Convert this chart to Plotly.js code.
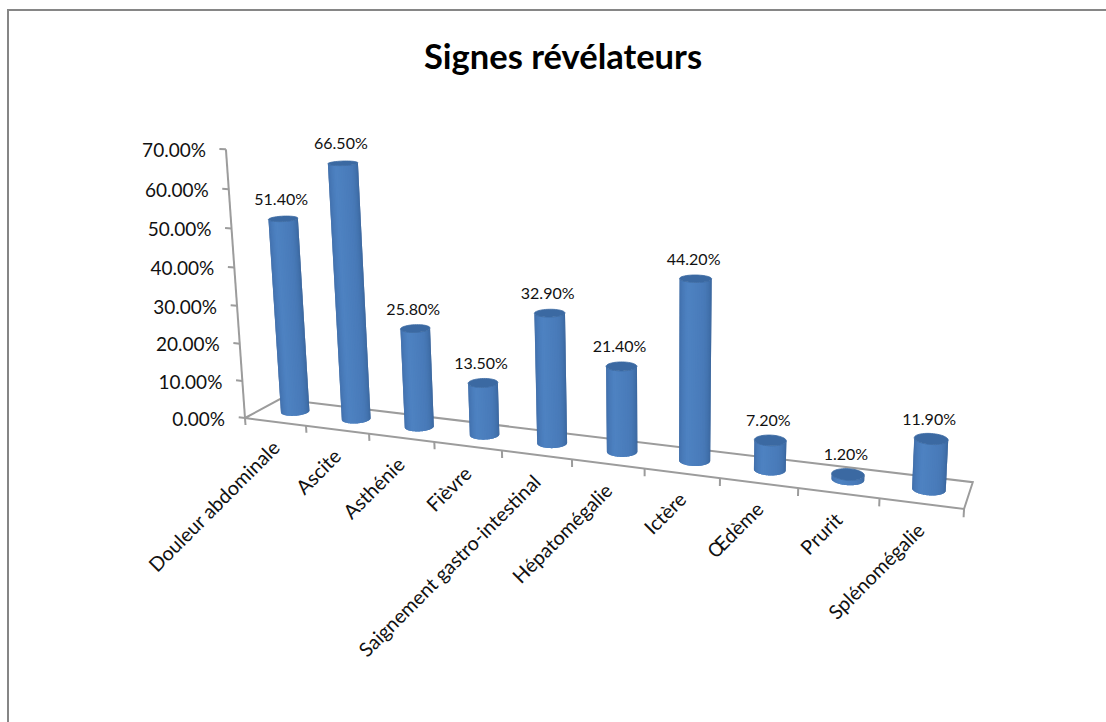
<!DOCTYPE html>
<html lang="fr">
<head>
<meta charset="utf-8">
<title>Signes révélateurs</title>
<script src="https://cdn.plot.ly/plotly-3.0.1.min.js"></script>
<style>
  html, body { margin: 0; padding: 0; background: #fff; overflow: hidden; }
  #chart { width: 1106px; height: 722px; }
</style>
</head>
<body>
<div id="chart"></div>
<script>
// Chart data
const categories = ['Douleur abdominale', 'Ascite', 'Asthénie', 'Fièvre', 'Saignement gastro-intestinal',
                    'Hépatomégalie', 'Ictère', 'Œdème', 'Prurit', 'Splénomégalie'];
const percentages = [51.4, 66.5, 25.8, 13.5, 32.9, 21.4, 44.2, 7.2, 1.2, 11.9];
const valueTicks = [0, 10, 20, 30, 40, 50, 60, 70];

// Perspective camera: (u, v) on the floor in 0..1, z in percent, result in page pixels
const cam = { a: 559, b: 46.2, c: 245, d: 6.5, e: -3.04, f: 418, g: -0.166, h: 0.04,
              lam: -0.000625, vx: 662, vy: 6290 };
function project(u, v, z) {
  const w = 1 + cam.g * u + cam.h * v + cam.lam * z;
  return [(cam.c + cam.a * u + cam.b * v + cam.lam * cam.vx * z) / w,
          (cam.f + cam.d * u + cam.e * v + cam.lam * cam.vy * z) / w];
}

const FONT = 'Lato, "Open Sans", sans-serif';
const GREY = '#9c9c9c';
const n = categories.length;
const slotU = i => (i + 0.5) / n;
const barU = i => slotU(i) + 0.002;
const RU = 0.0202, RV = 0.22, VC = 0.54, SEGMENTS = 120;

// Floor outline, axis line and tick marks
const lineX = [], lineY = [];
function addLine(pts) {
  pts.forEach(p => { lineX.push(p[0]); lineY.push(p[1]); });
  lineX.push(null); lineY.push(null);
}
addLine([project(0, 0, 0), project(0, 1, 0), project(1, 1, 0), project(1, 0, 0), project(0, 0, 0)]);
addLine([project(0, 0, 0), project(0, 0, 70)]);
valueTicks.forEach(t => addLine([project(0, 0, t), project(-0.0105, 0, t)]));
for (let i = 0; i <= n; i++) addLine([project(i / n, 0, 0), project(i / n, 0, -1.9)]);

const traces = [{
  type: 'scatter', mode: 'lines', x: lineX, y: lineY,
  line: { color: GREY, width: 2 }, hoverinfo: 'skip', showlegend: false
}];

// Cylinder shading, from the left silhouette to the right one
const shadeStops = [[0, [48, 90, 142]], [0.12, [60, 106, 166]], [0.4, [78, 130, 194]],
                    [0.62, [72, 122, 184]], [0.85, [56, 100, 156]], [1, [42, 82, 130]]];
function shade(t) {
  for (let k = 1; k < shadeStops.length; k++) {
    if (t <= shadeStops[k][0]) {
      const [t0, c0] = shadeStops[k - 1], [t1, c1] = shadeStops[k];
      const m = (t - t0) / (t1 - t0);
      return 'rgb(' + c0.map((c, j) => Math.round(c + (c1[j] - c) * m)).join(',') + ')';
    }
  }
  return 'rgb(42,82,130)';
}

// Ring of a cylinder at height z
const ring = (i, z, th) => project(barU(i) + RU * Math.cos(th), VC + RV * Math.sin(th), z);

// Front arc of the floor ring: from its leftmost to its rightmost screen point
function frontArc(i) {
  let thL = Math.PI, thR = 2 * Math.PI, minX = Infinity, maxX = -Infinity;
  for (let k = 0; k < SEGMENTS; k++) {
    const th = k / SEGMENTS * 2 * Math.PI;
    const x = ring(i, 0, th)[0];
    if (x < minX) { minX = x; thL = th; }
    if (x > maxX) { maxX = x; thR = th; }
  }
  if (thR < thL) thR += 2 * Math.PI;
  return [thL, thR];
}

// One trace per shade band. Each band reaches a little under the next one,
// which paints over it, so no seams open between neighbours.
const BANDS = 26, ARC_STEPS = 6;
for (let s = 0; s < BANDS; s++) {
  const xs = [], ys = [];
  percentages.forEach((val, i) => {
    const [thL, thR] = frontArc(i);
    const t0 = thL + (thR - thL) * s / BANDS;
    const t1 = thL + (thR - thL) * Math.min(s + 2, BANDS) / BANDS;
    const poly = [];
    for (let k = 0; k <= ARC_STEPS; k++) poly.push(ring(i, 0, t0 + (t1 - t0) * k / ARC_STEPS));
    poly.push(ring(i, val, t1), ring(i, val, t0));
    poly.forEach(p => { xs.push(p[0]); ys.push(p[1]); });
    xs.push(poly[0][0], null); ys.push(poly[0][1], null);
  });
  const col = shade(Math.acos(1 - 2 * (s + 0.5) / BANDS) / Math.PI);
  traces.push({
    type: 'scatter', mode: 'lines', x: xs, y: ys, fill: 'toself', fillcolor: col,
    line: { width: 0, simplify: false }, hoverinfo: 'skip', showlegend: false
  });
}

// Top caps
const capX = [], capY = [];
percentages.forEach((val, i) => {
  for (let k = 0; k <= 48; k++) {
    const p = ring(i, val, k / 48 * 2 * Math.PI);
    capX.push(p[0]); capY.push(p[1]);
  }
  capX.push(null); capY.push(null);
});
traces.push({
  type: 'scatter', mode: 'lines', x: capX, y: capY, fill: 'toself', fillcolor: '#3b69a2',
  line: { color: '#3b69a2', width: 0.8, simplify: false }, hoverinfo: 'skip', showlegend: false
});

// Value labels above each cylinder
const tops = percentages.map((val, i) => project(barU(i), VC, val));
traces.push({
  type: 'scatter', mode: 'text',
  x: tops.map(p => p[0] - 2), y: tops.map(p => p[1] - 18),
  text: percentages.map(v => v.toFixed(2) + '%'),
  textposition: 'middle center',
  textfont: { family: FONT, size: 16, color: '#111' },
  hoverinfo: 'skip', showlegend: false
});

// Value axis labels follow the leaning axis line
const tickAnchors = valueTicks.map(t => project(0, 0, t));
traces.push({
  type: 'scatter', mode: 'text',
  x: tickAnchors.map(p => p[0] - 20), y: tickAnchors.map(p => p[1] + 3),
  text: valueTicks.map(t => t.toFixed(2) + '%'),
  textposition: 'middle left',
  textfont: { family: FONT, size: 19, color: '#111' },
  hoverinfo: 'skip', showlegend: false
});

// Category labels along the front edge of the floor
const categoryNotes = categories.map((name, i) => {
  const p = project(slotU(i), 0, 0);
  return {
    text: name, x: p[0] + 11, y: p[1] + 11, xref: 'x', yref: 'y', showarrow: false,
    xanchor: 'right', yanchor: 'top', textangle: -45,
    font: { family: FONT, size: 19.8, color: '#111' }
  };
});

const layout = {
  width: 1106, height: 722,
  margin: { l: 0, r: 0, t: 0, b: 0 },
  paper_bgcolor: '#fff', plot_bgcolor: '#fff',
  showlegend: false,
  title: {
    text: '<b>Signes révélateurs</b>', x: 563 / 1106, xanchor: 'center', xref: 'paper',
    y: 1 - 57 / 722, yanchor: 'middle', yref: 'paper',
    font: { family: FONT, size: 34.5, color: '#000' }
  },
  xaxis: { visible: false, range: [0, 1106], fixedrange: true },
  yaxis: { visible: false, range: [722, 0], fixedrange: true },
  annotations: categoryNotes,
  shapes: [
    { type: 'line', xref: 'paper', yref: 'paper', x0: 8 / 1106, x1: 8 / 1106, y0: 0, y1: 1 - 9 / 722,
      line: { color: '#868686', width: 2 } },
    { type: 'line', xref: 'paper', yref: 'paper', x0: 7 / 1106, x1: 1, y0: 1 - 10 / 722, y1: 1 - 10 / 722,
      line: { color: '#868686', width: 2 } }
  ]
};

Plotly.newPlot('chart', traces, layout, { displayModeBar: false, staticPlot: true });
</script>
</body>
</html>
